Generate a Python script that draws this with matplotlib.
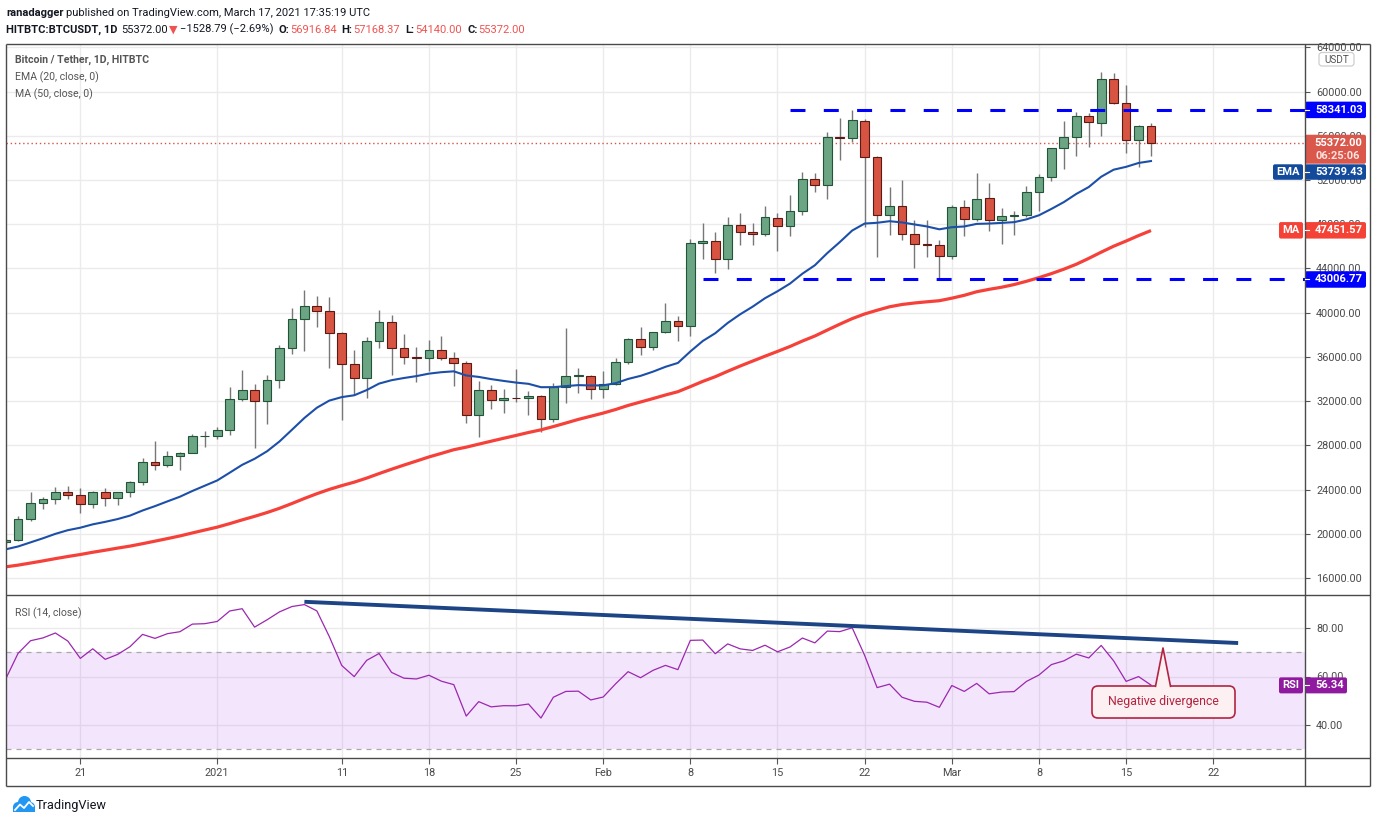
import matplotlib
matplotlib.use("Agg")
import matplotlib.pyplot as plt
import numpy as np
import pandas as pd
from matplotlib import font_manager
from matplotlib.patches import FancyBboxPatch, Polygon, Circle, Rectangle

# HITBTC BTC/USDT daily candles, 15 Dec 2020 .. 17 Mar 2021
first_day = "2020-12-15"
opens = [19270, 19420, 21340, 22760, 23130, 23820, 23480, 22700, 23750, 23230, 23750, 24660, 26470, 26270, 27030, 27360, 28810,
         28900, 29360, 32180, 32990, 32000, 33930, 36800, 39460, 40630, 40180, 38190, 35380, 34100, 37460, 39190, 36800,
         36000, 35900, 36600, 35870, 35450, 30740, 33000, 32100, 32280, 32260, 32500, 30370, 33320, 34260, 34300,
         33110, 33520, 35510, 37660, 36940, 38290, 39260, 38800, 46350, 46450, 44815, 47900, 47280, 47150, 48540,
         47880, 49200, 52060, 51520, 55860, 55800, 57330, 54050, 48800, 49630, 47100, 46260, 46080,
         45090, 49530, 48440, 50340, 48340, 48710, 48810, 50880, 52290, 54860, 55860, 57770, 57180, 61150, 58990,
         55640, 56916.84]
highs = [19570, 21600, 23800, 23350, 24250, 24330, 24120, 23880, 24180, 23820, 24790, 26870, 28400, 27500, 27380, 29050, 29350,
         29650, 33270, 34800, 33560, 34380, 37060, 40390, 42020, 41470, 41380, 38300, 36630, 37850, 40210, 39760, 38040,
         36910, 37560, 37930, 36460, 35670, 33850, 33500, 33110, 34890, 32930, 32560, 33680, 38580, 34980, 34380,
         34700, 35900, 37700, 38700, 38300, 40900, 39700, 46710, 48090, 47270, 48660, 49000, 48090, 49650, 49000,
         50650, 52690, 52600, 56330, 57580, 58300, 57490, 54200, 51350, 52000, 48390, 48390, 46620,
         49700, 50190, 52650, 51700, 49470, 49200, 51440, 52500, 54900, 57330, 58180, 58030, 61790, 61700, 60590,
         56950, 57168.37]
lows = [19060, 19330, 21200, 22280, 22700, 23130, 21930, 22370, 22550, 22640, 23330, 24460, 25780, 26080, 25800, 27300, 27900,
        28620, 28920, 32030, 27730, 29920, 33230, 36270, 36560, 38700, 35040, 30340, 32570, 32330, 36830, 34400, 35350,
        33780, 34770, 35750, 33380, 30060, 28800, 31280, 30900, 31910, 30780, 29200, 30100, 31870, 32780, 32180,
        32300, 33430, 35400, 36200, 36600, 38200, 37400, 37900, 44870, 43600, 43960, 46100, 46100, 46950, 45600,
        46950, 48870, 50900, 50260, 53810, 55400, 47730, 45000, 47000, 46600, 44060, 45000, 43100,
        44870, 46950, 48330, 47430, 46220, 47060, 48700, 49230, 51900, 52970, 54180, 55010, 55980, 58900, 54470,
        53200, 54140]
closes = [19420, 21340, 22760, 23130, 23820, 23480, 22700, 23750, 23230, 23750, 24660, 26470, 26270, 27030, 27360, 28810, 28900,
          29360, 32180, 32990, 32000, 33930, 36800, 39460, 40630, 40180, 38190, 35380, 34100, 37460, 39190, 36800, 36000,
          35900, 36600, 35870, 35450, 30740, 33000, 32100, 32280, 32260, 32500, 30370, 33320, 34260, 34300, 33110,
          33520, 35510, 37660, 36940, 38290, 39260, 38800, 46350, 46450, 44815, 47900, 47280, 47090, 48630, 47880,
          49200, 52060, 51520, 55860, 55800, 57400, 54050, 48800, 49630, 47100, 46260, 46080, 45090,
          49530, 48440, 50250, 48340, 48710, 48800, 50880, 52290, 54860, 55860, 57770, 57270, 61150, 58990, 55640,
          56850, 55372]
# closes 27 Oct .. 14 Dec 2020, only used to warm up EMA / MA / RSI
hist_closes = [13650, 13270, 13460, 13560, 13800,
               13760, 13550, 14020, 14150, 15590, 15580, 14830, 15480, 15330, 15310,
               15700, 16290, 16330, 16070, 15960, 16720, 17650, 17800, 17820, 18660,
               18690, 18420, 18370, 19160, 18720, 17150, 17140, 17720, 18180, 19700,
               18790, 19230, 19450, 18700, 19150, 19360, 19170, 18320, 18550, 18250,
               18040, 18800, 19170, 19270]

res_level = 58341.03
sup_level = 43006.77
res_from = "2021-02-16"
sup_from = "2021-02-09"
ema_label = "53739.43"
ma_label = "47451.57"
rsi_label = "56.34"
countdown = "06:25:06"
rsi_trend_dates = ["2021-01-08", "2021-03-24"]
rsi_trend_vals = [90.8, 73.8]
tick_dates = ["2020-12-21", "2021-01-01", "2021-01-11", "2021-01-18", "2021-01-25", "2021-02-01", "2021-02-08",
              "2021-02-15", "2021-02-22", "2021-03-01", "2021-03-08", "2021-03-15", "2021-03-22"]
tick_labels = ["21", "2021", "11", "18", "25", "Feb", "8", "15", "22", "Mar", "8", "15", "22"]
price_ticks = list(range(16000, 64001, 4000))
rsi_ticks = [40, 60, 80]

# indicators
allc = pd.Series(hist_closes + closes, dtype=float)
n0 = len(hist_closes)
ema20 = allc.ewm(span=20, adjust=False).mean().to_numpy()[n0:]
ma50 = allc.rolling(50).mean().to_numpy()[n0:]
d = allc.diff()
gain = d.clip(lower=0).ewm(alpha=1 / 14, adjust=False).mean()
loss = (-d.clip(upper=0)).ewm(alpha=1 / 14, adjust=False).mean()
rsi = (100 - 100 / (1 + gain / loss)).to_numpy()[n0:]

ref = pd.Timestamp("2020-12-21")
def dayx(s):
    return (pd.to_datetime(s) - ref).days if np.ndim(s) == 0 else np.asarray((pd.to_datetime(s) - ref).days)

x = np.asarray((pd.date_range(first_day, periods=len(closes)) - ref).days, dtype=float)
o, h, l, c = map(np.asarray, (opens, highs, lows, closes))

names = {f.name for f in font_manager.fontManager.ttflist}
NARROW = "Liberation Sans Narrow" in names
HF = "Liberation Sans Narrow" if NARROW else "Roboto"
hs = 9.6 if NARROW else 8.0
FONT = "Roboto"
plt.rcParams["font.family"] = [FONT, "DejaVu Sans"]

W, H = 1376, 823
fig = plt.figure(figsize=(W / 100, H / 100), dpi=100)
fig.patch.set_facecolor("white")

def rect(left, top, right, bottom):
    return [left / W, 1 - bottom / H, (right - left) / W, (bottom - top) / H]

PL, PR = 6, 1305
ax = fig.add_axes(rect(PL, 44, PR, 595))
axr = fig.add_axes(rect(PL, 595, PR, 758))
x0 = 80.3
step = 12.45
xlim = ((PL - x0) / step, (PR - x0) / step)
grid_c = "#ebebeb"
lab_c = "#4a4a4a"
tx = dayx(tick_dates)

for a in (ax, axr):
    a.set_xlim(*xlim)
    for s in a.spines.values():
        s.set_visible(False)
    a.set_axisbelow(True)
    a.set_xticks(tx)
    a.grid(True, color=grid_c, lw=1)
    a.yaxis.tick_right()
    a.tick_params(axis="y", length=3.5, width=0.8, color="#555555", labelcolor=lab_c, labelsize=7.8, pad=4.5)

ax.set_ylim(14479, 64298)
ax.set_yticks(price_ticks)
ax.set_yticklabels([f"{v:.2f}" for v in price_ticks])
ax.tick_params(axis="x", length=0, labelbottom=False)

# last price dotted line
ax.axhline(c[-1], color="#d75442", lw=1, ls=(0, (1, 2)), zorder=2)

# candles
up = c >= o
lo_b = np.minimum(o, c)
hb = np.maximum(np.abs(c - o), 70)
ax.vlines(x, l, h, color="#777777", lw=1, zorder=3)
ax.bar(x[up], hb[up], bottom=lo_b[up], width=0.7, color="#6ba583", edgecolor="#225437", lw=0.8, zorder=4)
ax.bar(x[~up], hb[~up], bottom=lo_b[~up], width=0.7, color="#d75442", edgecolor="#5b1a13", lw=0.8, zorder=4)

# moving averages
ax.plot(x, ma50, color="#f5413a", lw=2.3, zorder=5, solid_capstyle="butt")
ax.plot(x, ema20, color="#1c4fa8", lw=1.5, zorder=5)

# horizontal levels
ax.plot([dayx(res_from), xlim[1]], [res_level, res_level], color="#0000ff", lw=2.2, dashes=(4.9, 6.0), zorder=6)
ax.plot([dayx(sup_from), xlim[1]], [sup_level, sup_level], color="#0000ff", lw=2.2, dashes=(4.9, 6.0), zorder=6)

# RSI pane
axr.set_ylim(26.4, 93.6)
axr.set_yticks(rsi_ticks)
axr.set_yticklabels([f"{v:.2f}" for v in rsi_ticks])
axr.set_xticklabels(tick_labels)
axr.tick_params(axis="x", length=4, width=0.8, color="#555555", labelcolor=lab_c, labelsize=7.8, pad=3)
axr.axhspan(30, 70, color=(155 / 255, 47 / 255, 238 / 255), alpha=0.12, lw=0, zorder=1)
for lvl in (30, 70):
    axr.axhline(lvl, color="#a9a9a9", lw=0.9, dashes=(4, 4), zorder=2)
axr.plot(x, rsi, color="#9c27b0", lw=0.9, zorder=4)
axr.plot(dayx(rsi_trend_dates), rsi_trend_vals, color="#1d4485", lw=2.8, zorder=5, solid_capstyle="butt")

# overlay in pixel units for frame, header, tags
ov = fig.add_axes([0, 0, 1, 1], zorder=10)
ov.set_xlim(0, W)
ov.set_ylim(H, 0)
ov.axis("off")
fc = "#4a4a4a"
for xs, ys in [((6, 1370), (44, 44)), ((6, 1370), (595, 595)), ((6, 1370), (758, 758)), ((6, 1370), (786, 786)),
               ((6, 6), (44, 786)), ((1305, 1305), (44, 786)), ((1370, 1370), (44, 786))]:
    ov.plot(xs, ys, color=fc, lw=1.0, solid_capstyle="butt")

renderer = fig.canvas.get_renderer()

def chain(parts, xs, y, size):
    for s, col, wt, gap, fam in parts:
        t = ov.text(xs, y, s, color=col, fontsize=size, fontweight=wt, family=fam, va="center", ha="left")
        xs += t.get_window_extent(renderer).width + gap
    return xs

dark = "#131722"
red = "#ef5350"
chain([("ranadagger", dark, "bold", 3, HF),
       ("published on TradingView.com, March 17, 2021 17:35:19 UTC", dark, "normal", 0, HF)], 6, 13, hs)
chain([("HITBTC:BTCUSDT, 1D", dark, "bold", 4, HF),
       ("55372.00", dark, "normal", 1, HF),
       ("▼", red, "normal", 2, "DejaVu Sans"),
       ("−1528.79 (−2.69%)", dark, "normal", 5, HF),
       ("O:", dark, "bold", 1, HF), ("56916.84", red, "normal", 5, HF),
       ("H:", dark, "bold", 1, HF), ("57168.37", red, "normal", 5, HF),
       ("L:", dark, "bold", 1, HF), ("54140.00", red, "normal", 5, HF),
       ("C:", dark, "bold", 1, HF), ("55372.00", red, "normal", 0, HF)], 6, 29.5, hs)

ov.text(15, 60, "Bitcoin / Tether, 1D, HITBTC", color="#555555", fontsize=hs - 0.4, fontweight="bold", family=HF, va="center")
ov.text(15, 77, "EMA (20, close, 0)", color="#555555", fontsize=hs - 0.4, family=HF, va="center")
ov.text(15, 94, "MA (50, close, 0)", color="#555555", fontsize=hs - 0.4, family=HF, va="center")
ov.text(15, 613, "RSI (14, close)", color="#555555", fontsize=hs - 0.4, family=HF, va="center")

ov.add_patch(FancyBboxPatch((1319, 52.5), 35, 13.5, boxstyle="round,pad=0,rounding_size=3",
                            fc="white", ec="#cfcfcf", lw=0.9))
ov.text(1336.5, 59.5, "USDT", color="#555555", fontsize=7.2, ha="center", va="center")

def ypix(a, v):
    return H - a.transData.transform((0, v))[1]

def tag(yc, text, col, hgt=16.5, right=1366, name=None, name_left=None, fs=8.0):
    ov.add_patch(FancyBboxPatch((1305, yc - hgt / 2), right - 1305, hgt, boxstyle="round,pad=0,rounding_size=2",
                                fc=col, ec="none"))
    ov.plot([1305, 1309], [yc, yc], color="white", lw=0.8)
    ov.text((1310 + right) / 2 + 1, yc, text, color="white", fontsize=fs, fontweight="bold", ha="center", va="center")
    if name:
        ov.add_patch(FancyBboxPatch((name_left, yc - hgt / 2), 1303 - name_left, hgt,
                                    boxstyle="round,pad=0,rounding_size=2", fc=col, ec="none"))
        ov.text((name_left + 1303) / 2, yc, name, color="white", fontsize=fs, fontweight="bold",
                ha="center", va="center")

tag(ypix(ax, res_level), f"{res_level:.2f}", "#0000ff")
tag(ypix(ax, sup_level), f"{sup_level:.2f}", "#0000ff")
# last price tag with bar countdown
yp = ypix(ax, c[-1])
ov.add_patch(FancyBboxPatch((1305, yp - 8), 61, 29, boxstyle="round,pad=0,rounding_size=2", fc="#d9574b", ec="none"))
ov.text(1338, yp + 0.5, f"{c[-1]:.2f}", color="white", fontsize=8.0, fontweight="bold", ha="center", va="center")
ov.text(1338, yp + 13.5, countdown, color="#fbe3df", fontsize=8.0, fontweight="bold", ha="center", va="center")
# EMA tag is stacked right under the price tag
tag(yp + 21 + 8.3, ema_label, "#134a9c", hgt=15.5, name="EMA", name_left=1273)
tag(ypix(ax, float(ma_label)), ma_label, "#f44336", name="MA", name_left=1279)
tag(ypix(axr, float(rsi_label)), rsi_label, "#8f1a9f", right=1347, name="RSI", name_left=1279, hgt=16)

# callout in RSI pane
cfill, cedge = "#fdf0f3", "#b2243f"
ov.add_patch(FancyBboxPatch((1092, 686), 143, 32, boxstyle="round,pad=0,rounding_size=6", fc=cfill, ec=cedge, lw=1.2))
ov.add_patch(Polygon([(1155.5, 688), (1163, 648), (1170.5, 688)], closed=True, fc=cfill, ec="none"))
ov.plot([1155.5, 1163, 1170.5], [686.3, 648, 686.3], color=cedge, lw=1.2)
ov.text(1163.5, 702, "Negative divergence", color=cedge, fontsize=8.8, family=FONT, ha="center", va="center")

# TradingView logo
blue = "#2196f3"
for cx, cy, r in [(18, 807, 5), (24.5, 802.5, 6.5), (30, 807, 5)]:
    ov.add_patch(Circle((cx, cy), r, fc=blue, ec="none"))
ov.add_patch(Rectangle((13, 806), 22, 6, fc=blue, ec="none"))
ov.plot([15, 20, 24, 29, 33], [810, 804.5, 808, 802, 806], color="white", lw=1.3)
ov.text(36, 805, "TradingView", color=dark, fontsize=9.2, ha="left", va="center")

fig.savefig("out.png", dpi=100, facecolor="white")
